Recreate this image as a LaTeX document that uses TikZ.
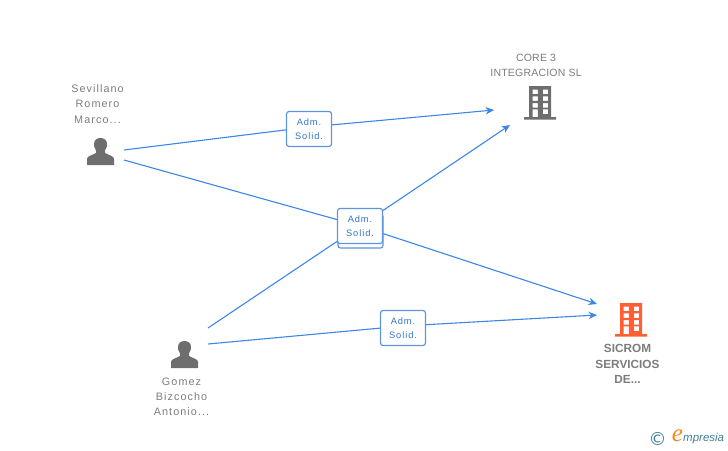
\documentclass[tikz,border=0pt]{standalone}
\usepackage{fontspec}
\setmainfont{Liberation Sans}
\newfontfamily\spaced[LetterSpace=10]{Liberation Sans}
\newfontfamily\midspaced[LetterSpace=2]{Liberation Sans}
\newfontfamily\bluefont[LetterSpace=10]{Liberation Sans}
\newfontfamily\logoserif{Liberation Serif}
\newfontfamily\logofont{DejaVu Sans}
\definecolor{edgeblue}{HTML}{3E86E6}
\definecolor{boxblue}{HTML}{5B95E0}
\definecolor{labelblue}{HTML}{2F76CC}
\definecolor{icongray}{HTML}{6E6E6E}
\definecolor{textgray}{HTML}{7C7C7C}
\definecolor{iconorange}{HTML}{FF5F33}
\definecolor{logoteal}{HTML}{3F7F95}
\definecolor{logoorange}{HTML}{F08A1D}
\usetikzlibrary{arrows.meta}
\tikzset{
  x=1pt,y=-1pt,
  flow/.style={draw=edgeblue,line width=1.1pt},
  flowtip/.style={flow,-{Stealth[length=8.5pt,width=7.5pt]}},
  admbox/.style={draw=boxblue,line width=1.2pt,fill=white,rounded corners=2.5pt,minimum width=45pt,minimum height=35pt,inner sep=0pt},
  admtext/.style={text=labelblue,font=\fontsize{9.3}{14.5}\selectfont\bluefont,align=center,inner sep=0pt},
  nametext/.style={text=textgray,font=\fontsize{10.8}{15.2}\selectfont\spaced,align=center,inner sep=0pt},
  coretext/.style={text=textgray,font=\fontsize{10.5}{15.2}\selectfont\midspaced,align=center,inner sep=0pt},
  boldtext/.style={text=textgray,font=\fontsize{11.8}{15.2}\selectfont\bfseries,align=center,inner sep=0pt},
}
\newcommand{\personicon}[2]{%
  \fill[icongray,shift={(#1,#2)}]
    (-13.5,13) -- (-13.5,7) .. controls (-13.5,4) and (-9,3.5) .. (-4.5,1)
    -- (-4.5,-1.5) .. controls (-6.5,-4) and (-6.5,-7) .. (-6.5,-8)
    .. controls (-6.5,-12) and (-3.5,-14) .. (0,-14)
    .. controls (3.5,-14) and (6.5,-12) .. (6.5,-8)
    .. controls (6.5,-7) and (6.5,-4) .. (4.5,-1.5)
    -- (4.5,1) .. controls (9,3.5) and (13.5,4) .. (13.5,7) -- (13.5,13) -- cycle;
}
\newcommand{\buildingicon}[3]{%
  \fill[#3,shift={(#1,#2)},even odd rule]
    (-11,-17) rectangle (11,14)
    (-16,14) rectangle (16,16.5)
    (-7.3,-13.3) rectangle (-2.2,-8.8)
    (2.8,-13.3) rectangle (8,-8.8)
    (-7.3,-6.6) rectangle (-2.2,-2.1)
    (2.8,-6.6) rectangle (8,-2.1)
    (-7.3,0) rectangle (-2.2,4.5)
    (2.8,0) rectangle (8,4.5)
    (-7.3,6.3) rectangle (-2.2,14)
    (2.8,6.3) rectangle (8,11);
}
\begin{document}
\begin{tikzpicture}
\useasboundingbox (0,0) rectangle (728,450);
% anchors for the connector ends
\coordinate (p1a) at (124,150);
\coordinate (p1b) at (124,160);
\coordinate (p2a) at (208,328);
\coordinate (p2b) at (208,344);
\coordinate (coreA) at (494,110);
\coordinate (coreB) at (510,125);
\coordinate (sicA) at (597,304);
\coordinate (sicB) at (597,315);
% label positions
\coordinate (lab1) at (309,127);
\coordinate (lab2) at (360,226);
\coordinate (lab3) at (403,326);
% connectors
\draw[flowtip] (p1a) -- (lab1) -- (coreA);
\draw[flowtip] (p1b) -- (lab2) -- (sicA);
\draw[flowtip] (p2a) -- (lab2) -- (coreB);
\draw[flowtip] (p2b) -- (lab3) -- (sicB);
% label boxes
\node[admbox] (b1) at (309,129) {};
\node[admtext] (t1) at (309,129) {Adm.\\Solid.};
\node[admbox,minimum height=34pt] (b2back) at (360.5,231) {};
\node[admbox] (b2) at (360,226) {};
\node[admtext] (t2) at (360,226) {Adm.\\Solid.};
\node[admbox] (b3) at (403,328) {};
\node[admtext] (t3) at (403,328) {Adm.\\Solid.};
% icons
\personicon{100.5}{152}
\personicon{184.5}{355}
\buildingicon{540}{103}{icongray}
\buildingicon{631}{320}{iconorange}
% names
\node[nametext] (n1) at (97.5,104) {Sevillano\\Romero\\Marco...};
\node[nametext] (n2) at (181.5,397) {Gomez\\Bizcocho\\Antonio...};
\node[coretext] (n3) at (536,65) {CORE 3\\INTEGRACION SL};
\node[boldtext] (n4) at (627.5,364) {SICROM\\SERVICIOS\\DE...};
% logo
\node[text=logoteal,font=\fontsize{18}{18}\logofont,inner sep=0pt] (copy) at (657.5,439) {©};
\node[text=logoorange,font=\fontsize{25}{25}\logoserif\itshape,inner sep=0pt] (loge) at (677.5,436) {e};
\node[text=logoteal,font=\fontsize{11.5}{12}\selectfont\itshape,inner sep=0pt,anchor=west] (logt) at (683,439) {mpresia};
\end{tikzpicture}
\end{document}
